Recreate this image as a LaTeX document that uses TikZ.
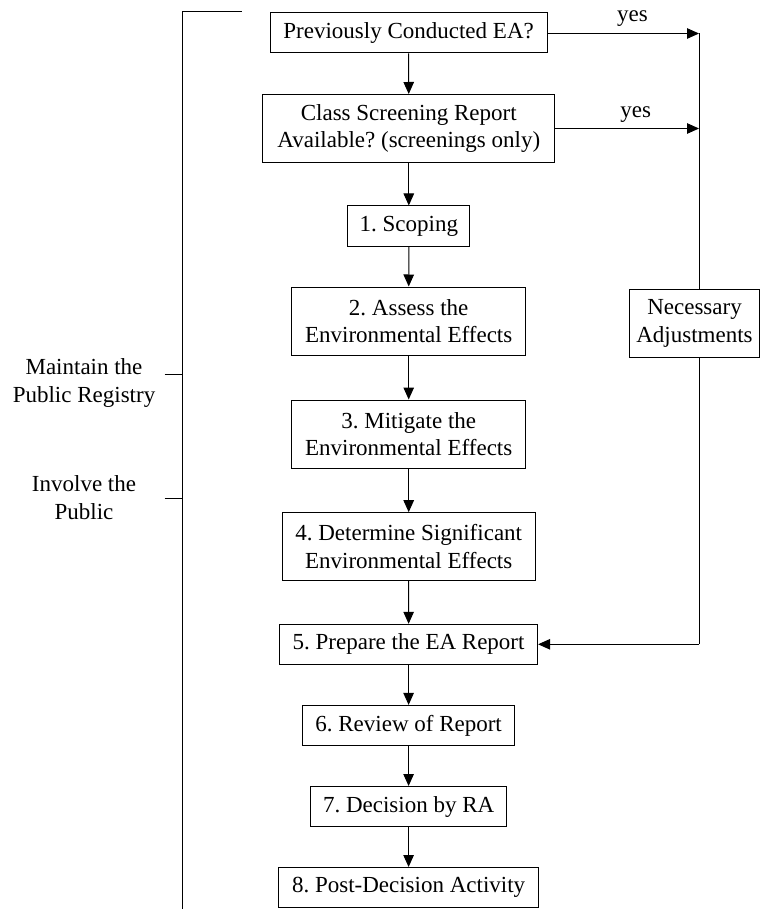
\documentclass[tikz,border=0pt]{standalone}
\usepackage{fontspec}
\setmainfont{Liberation Serif}
\usetikzlibrary{arrows.meta}
\frenchspacing
\begin{document}
\begin{tikzpicture}[x=1pt,y=-1pt,
  font=\fontsize{23}{27.5}\selectfont,
  line width=1pt,
  box/.style={draw, rectangle, align=center, inner sep=0pt, minimum height=40pt},
  tall/.style={box, minimum height=68pt},
  flow/.style={-{Triangle[length=12pt,width=10.5pt]}},
  side/.style={align=center, inner sep=0pt}
]
\useasboundingbox (0,0) rectangle (761,909);

% main column of steps
\node[box,  minimum width=277pt] (prev)   at (408.6,33)    {Previously Conducted EA?};
\node[tall, minimum width=292pt] (class)  at (408.8,128.5) {Class Screening Report\\Available? (screenings only)};
\node[box,  minimum width=122pt] (scope)  at (408.8,226)   {1. Scoping};
\node[tall, minimum width=234pt] (assess) at (408.7,321)   {2. Assess the\\Environmental Effects};
\node[tall, minimum width=234pt] (mitig)  at (408.7,434)   {3. Mitigate the\\Environmental Effects};
\node[tall, minimum width=253pt] (determ) at (408.7,546.7) {4. Determine Significant\\Environmental Effects};
\node[box,  minimum width=258pt] (prep)   at (408.6,644.3) {5. Prepare the EA Report};
\node[box,  minimum width=212pt] (review) at (408.6,725.4) {6. Review of Report};
\node[box,  minimum width=196pt] (decide) at (408.6,806.5) {7. Decision by RA};
\node[box,  minimum width=260pt] (post)   at (408.6,887.5) {8. Post-Decision Activity};

\draw[flow] (prev)   -- (class);
\draw[flow] (class)  -- (scope);
\draw[flow] (scope)  -- (assess);
\draw[flow] (assess) -- (mitig);
\draw[flow] (mitig)  -- (determ);
\draw[flow] (determ) -- (prep);
\draw[flow] (prep)   -- (review);
\draw[flow] (review) -- (decide);
\draw[flow] (decide) -- (post);

% bypass branch on the right
\coordinate (j1) at (699,33.5);
\coordinate (j2) at (699,128.5);
\coordinate (j3) at (699,644.3);
\node[tall, minimum width=130pt] (adj) at (694.5,323.5) {Necessary\\Adjustments};

\draw[flow] (prev.east |- j1)  -- node[pos=0.56, anchor=base, yshift=11.5pt, inner sep=0pt] (yes1) {yes} (j1);
\draw[flow] (class.east) -- node[pos=0.56, anchor=base, yshift=10.5pt, inner sep=0pt] (yes2) {yes} (j2);
\draw (j1) -- (adj.north -| j1);
\draw (adj.south -| j3) -- (j3);
\draw[flow] (j3) -- (prep.east);

% bracket on the left
\coordinate (bt) at (182.7,11.7);
\coordinate (bb) at (182.7,909);
\coordinate (bh) at (241.7,11.7);
\draw (bh) -- (bt) -- (bb);
\coordinate (t1) at (164.5,374.3);
\coordinate (t2) at (164.5,498.3);
\draw (t1) -- (t1 -| bt);
\draw (t2) -- (t2 -| bt);
\node[side] (registry) at (84,383)   {Maintain the\\Public Registry};
\node[side] (public)   at (84,497.5) {Involve the\\Public};
\end{tikzpicture}
\end{document}
